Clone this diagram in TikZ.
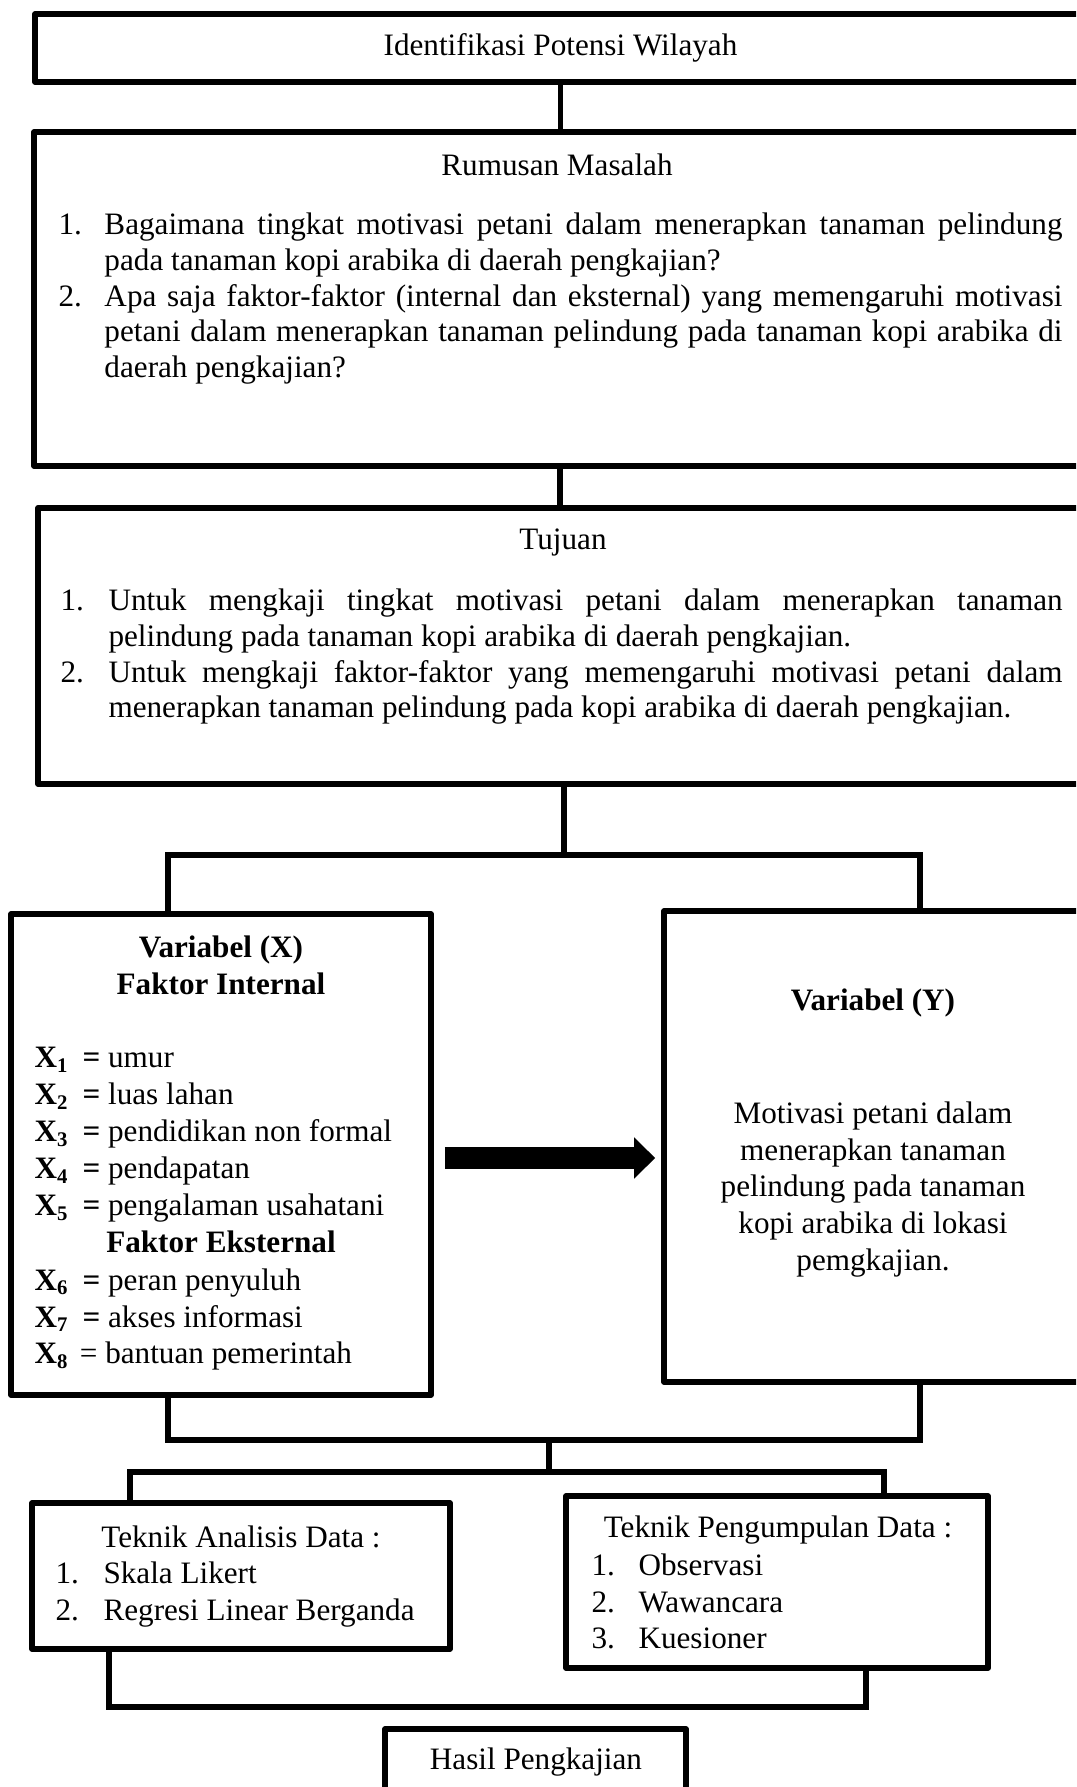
\documentclass[tikz,border=0pt]{standalone}
\usepackage{fontspec}
\setmainfont{Liberation Serif}
\usetikzlibrary{arrows.meta, positioning, calc}
\hyphenpenalty=10000
\exhyphenpenalty=10000
\setlength{\parskip}{0pt}
\newcommand{\numitem}[3]{\par\noindent\hangindent=#1\hangafter=1\makebox[#1][l]{#2}#3\par}
\newcommand{\xrow}[2]{\makebox[18.5pt][l]{\textbf{X\textsubscript{#1}}}\textbf{=} #2}

\begin{document}
\begin{tikzpicture}[x=0.385pt, y=-0.385pt,
    every node/.style={font=\fontsize{12}{14.2}\selectfont, inner sep=0pt},
    box/.style={draw, line width=2.2pt, line join=round},
    lst/.style={anchor=north west, align=justify, font=\fontsize{12}{13.8}\selectfont},
    conn/.style={line width=2pt},
    bigarr/.style={line width=8.1pt, -{Triangle[length=8.1pt 0, width=15.4pt 0]}}
  ]
  \useasboundingbox (0,0) rectangle (1076,1787);
  \clip (0,0) rectangle (1076,1787);

  % upper boxes
  \node[box, minimum width=404.6pt, minimum height=26.2pt] (ident) at (560.5,48) {Identifikasi Potensi Wilayah};
  \node[box, minimum width=405pt, minimum height=128.6pt] (rumusan) at (560,299) {};
  \node (rumusantitle) at (557,165) {Rumusan Masalah};
  \node[lst, text width=386.5pt] (rumusanlist) at (58,198) {%
    \numitem{17.7pt}{1.}{Bagaimana tingkat motivasi petani dalam menerapkan tanaman pelindung pada tanaman kopi arabika di daerah pengkajian?}
    \numitem{17.7pt}{2.}{Apa saja faktor-faktor (internal dan eksternal) yang memengaruhi motivasi petani dalam menerapkan tanaman pelindung pada tanaman kopi arabika di daerah pengkajian?}};
  \node[box, minimum width=405pt, minimum height=106.3pt] (tujuan) at (564,646) {};
  \node (tujuantitle) at (563,543) {Tujuan};
  \node[lst, text width=385.8pt] (tujuanlist) at (60,574) {%
    \numitem{18.5pt}{1.}{Untuk mengkaji tingkat motivasi petani dalam menerapkan tanaman pelindung pada tanaman kopi arabika di daerah pengkajian.}
    \numitem{18.5pt}{2.}{Untuk mengkaji faktor-faktor yang memengaruhi motivasi petani dalam menerapkan tanaman pelindung pada kopi arabika di daerah pengkajian.}};

  % variables
  \node[box, minimum width=161.7pt, minimum height=185.2pt] (varx) at (221,1154.5) {};
  \node[align=center, font=\fontsize{12}{14.2}\selectfont\bfseries] (varxtitle) at (221,965.5) {Variabel (X)\\Faktor Internal};
  \node[anchor=north west, align=left] (xint) at (34,1047) {%
    \xrow{1}{umur}\\ \xrow{2}{luas lahan}\\ \xrow{3}{pendidikan non formal}\\
    \xrow{4}{pendapatan}\\ \xrow{5}{pengalaman usahatani}};
  \node[font=\fontsize{12}{14.2}\selectfont\bfseries] (xexttitle) at (221,1242) {Faktor Eksternal};
  \node[anchor=north west, align=left] (xext) at (34,1268) {%
    \xrow{6}{peran penyuluh}\\ \xrow{7}{akses informasi}\\
    \makebox[17.5pt][l]{\textbf{X\textsubscript{8}}}= bantuan pemerintah};
  \node[box, minimum width=160.9pt, minimum height=181.3pt] (vary) at (873,1146.5) {};
  \node[font=\fontsize{12}{14.2}\selectfont\bfseries] (varytitle) at (873,1003) {Variabel (Y)};
  \node[anchor=north, align=center] (varybody) at (873,1101) {Motivasi petani dalam\\menerapkan tanaman\\pelindung pada tanaman\\kopi arabika di lokasi\\pemgkajian.};
  \draw[bigarr] ($(varx.east)+(11,3.5)$) -- ($(vary.west |- varx.east)+(-6,3.5)$);

  % methods
  \node[box, minimum width=160.9pt, minimum height=56.2pt] (analisis) at (241,1576) {};
  \node (analisistitle) at (241,1537) {Teknik Analisis Data :};
  \node[anchor=north west, align=left] (analisislist) at (55,1561) {%
    \makebox[18.5pt][l]{1.}Skala Likert\\ \makebox[18.5pt][l]{2.}Regresi Linear Berganda};
  \node[box, minimum width=162.5pt, minimum height=66.2pt] (kumpul) at (777,1582) {};
  \node (kumpultitle) at (778,1530) {Teknik Pengumpulan Data :};
  \node[anchor=north west, align=left] (kumpullist) at (591,1553) {%
    \makebox[18.1pt][l]{1.}Observasi\\ \makebox[18.1pt][l]{2.}Wawancara\\ \makebox[18.1pt][l]{3.}Kuesioner};
  \node[box, minimum width=115.9pt, minimum height=38.9pt] (hasil) at (535.5,1779.5) {};
  \node (hasiltext) at (536,1762) {Hasil Pengkajian};

  % connectors
  \coordinate (bus1l) at (168,855);
  \coordinate (bus1r) at (920,855);
  \coordinate (bus2l) at (168,1440);
  \coordinate (bus2r) at (920,1440);
  \coordinate (bus2m) at (549,1440);
  \coordinate (bus3m) at (549,1472);
  \coordinate (bus3l) at (130,1472);
  \coordinate (bus3r) at (884,1472);
  \coordinate (bus4l) at (109,1707);
  \coordinate (bus4r) at (866,1707);
  \draw[conn] (ident.south) -- (rumusan.north -| ident.south);
  \draw[conn] (rumusan.south) -- (tujuan.north -| rumusan.south);
  \draw[conn] (tujuan.south) -- (tujuan.south |- bus1l);
  \draw[conn] (varx.north -| bus1l) -- (bus1l) -- (bus1r) -- (vary.north -| bus1r);
  \draw[conn] (varx.south -| bus2l) -- (bus2l) -- (bus2r) -- (vary.south -| bus2r);
  \draw[conn] (bus2m) -- (bus3m);
  \draw[conn] (analisis.north -| bus3l) -- (bus3l) -- (bus3r) -- (kumpul.north -| bus3r);
  \draw[conn] (analisis.south -| bus4l) -- (bus4l) -- (bus4r) -- (kumpul.south -| bus4r);
\end{tikzpicture}
\end{document}
